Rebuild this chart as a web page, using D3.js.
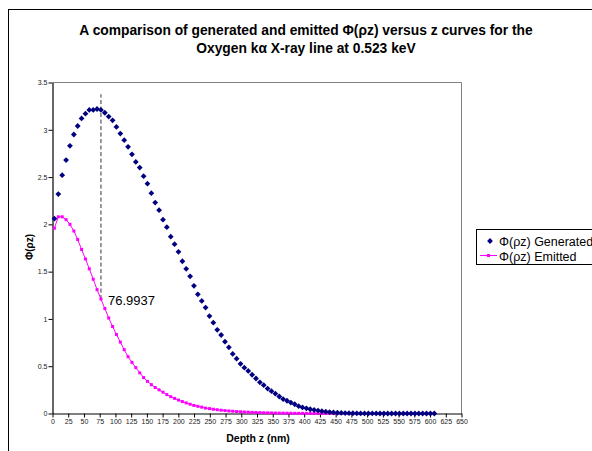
<!DOCTYPE html>
<html><head><meta charset="utf-8">
<script src="https://cdn.jsdelivr.net/npm/d3@7"></script>
<style>body{margin:0;background:#fff}svg{display:block;font-family:Arial,"Liberation Sans",sans-serif}</style>
</head><body><svg id="c" width="592" height="451"></svg>
<script>
const depth = [3.1,9.2,15.4,21.6,27.7,33.9,40.0,46.2,52.4,58.5,64.7,70.8,77.0,83.2,89.3,95.5,101.6,107.8,114.0,120.1,
126.3,132.4,138.6,144.8,150.9,157.1,163.2,169.4,175.6,181.7,187.9,194.0,200.2,206.4,212.5,218.7,224.8,231.0,237.2,243.3,
249.5,255.6,261.8,268.0,274.1,280.3,286.4,292.6,298.8,304.9,311.1,317.2,323.4,329.6,335.7,341.9,348.0,354.2,360.4,366.5,
372.7,378.8,385.0,391.2,397.3,403.5,409.6,415.8,422.0,428.1,434.3,440.4,446.6,452.8,458.9,465.1,471.2,477.4,483.6,489.7,
495.9,502.0,508.2,514.4,520.5,526.7,532.8,539.0,545.2,551.3,557.5,563.6,569.8,576.0,582.1,588.3,594.4,600.6,606.8];
const generated = [2.06,2.32,2.52,2.68,2.83,2.95,3.04,3.12,3.17,3.21,3.21,3.22,3.21,3.18,3.14,3.10,3.03,2.96,2.89,2.82,
2.74,2.66,2.60,2.51,2.43,2.33,2.23,2.15,2.05,1.97,1.87,1.79,1.71,1.61,1.53,1.45,1.35,1.26,1.19,1.12,
1.03,0.96,0.885,0.83,0.76,0.70,0.63,0.58,0.525,0.485,0.45,0.41,0.37,0.33,0.30,0.264,0.236,0.21,0.18,0.153,
0.135,0.116,0.098,0.077,0.064,0.055,0.045,0.038,0.031,0.025,0.019,0.015,0.011,0.008,0.006,0.0045,0.0033,0.0024,0.0017,0.0012,
0.0008,0.0006,0.0004,0.0003,0.0002,0.0001,0.0001,0.0001,0.0001,0.0001,0.0001,0.0001,0.0001,0.0001,0.0001,0.0001,0.0001,0.0001,0.0001];
const emitted = [1.96,2.08,2.08,2.05,2.00,1.93,1.84,1.735,1.634,1.53,1.42,1.31,1.21,1.11,1.01,0.92,0.835,0.755,0.675,0.60,
0.54,0.485,0.43,0.38,0.34,0.305,0.275,0.25,0.225,0.20,0.178,0.16,0.142,0.126,0.112,0.098,0.085,0.076,0.067,0.057,
0.052,0.045,0.04,0.035,0.031,0.027,0.024,0.021,0.018,0.016,0.014,0.012,0.011,0.0095,0.008,0.007,0.006,0.0052,0.0045,0.0039,
0.0033,0.0028,0.0024,0.002,0.0017,0.0014,0.0012,0.001,0.0008,0.0007,0.0006,0.0005,0.0004,0.0003,0.0003,0.0002,0.0002,0.0001,0.0001,0.0001,
0.0001,0.0001,0.0001,0.0001,0.0001,0.0001,0.0001,0.0001,0.0001,0.0001,0.0001,0.0001,0.0001,0.0001,0.0001,0.0001,0.0001,0.0001,0.0001];
const xTicks = d3.range(0, 651, 25);
const yTicks = [0,0.5,1,1.5,2,2.5,3,3.5];
const peakDepth = 76.9937;
const peakEmitted = 1.21;
const peakTop = 3.375;
const titleLines = ["A comparison of generated and emitted \u03A6(\u03C1z) versus z curves for the","Oxygen k\u03B1 X-ray line at 0.523 keV"];
const seriesNames = ["\u03A6(\u03C1z) Generated","\u03A6(\u03C1z) Emitted"];

const svg = d3.select("#c");
const L=52.5, R=461.5, T=82.5, B=413.5;
const x = d3.scaleLinear().domain([0,650]).range([L,R]);
const y = d3.scaleLinear().domain([0,3.5]).range([B,T]);

// outer chart border
svg.append("rect").attr("x",8.5).attr("y",9.5).attr("width",700).attr("height",600)
  .attr("fill","#fff").attr("stroke","#000").attr("stroke-width",1);

// title
svg.append("g").selectAll("text").data(titleLines).join("text")
  .attr("x",306).attr("y",(d,i)=>35+i*18).attr("text-anchor","middle")
  .attr("font-size",13.8).attr("font-weight","bold").text(d=>d);

// plot border (top/right grey)
svg.append("path").attr("d",`M${L},${T}H${R}V${B}`).attr("fill","none").attr("stroke","#808080");

// axes
const xa = svg.append("g").attr("transform",`translate(0,${B})`)
  .call(d3.axisBottom(x).tickValues(xTicks).tickSize(4).tickSizeOuter(0).tickFormat(d3.format("d")));
const ya = svg.append("g").attr("transform",`translate(${L},0)`)
  .call(d3.axisLeft(y).tickValues(yTicks).tickSize(4).tickSizeOuter(0).tickFormat(d=>String(d)));
[xa,ya].forEach(a=>{
  a.select(".domain").attr("stroke","#000").attr("stroke-width",1.2);
  a.selectAll(".tick line").attr("stroke","#000");
  a.selectAll("text").attr("font-size",7).attr("fill","#222").attr("font-family","Arial,'Liberation Sans',sans-serif");
});
xa.selectAll("text").attr("dy","0.75em").attr("y",5);
ya.selectAll("text").attr("x",-5);

// axis titles
svg.append("text").attr("x",258).attr("y",442).attr("text-anchor","middle")
  .attr("font-size",10.5).attr("font-weight","bold").text("Depth z (nm)");
svg.append("text").attr("transform","translate(33,247) rotate(-90)").attr("text-anchor","middle")
  .attr("font-size",10).attr("font-weight","bold").text("\u03A6(\u03C1z)");

// dashed line
svg.append("line").attr("x1",x(peakDepth)).attr("x2",x(peakDepth))
  .attr("y1",y(peakEmitted)).attr("y2",y(peakTop))
  .attr("stroke","#333").attr("stroke-width",1).attr("stroke-dasharray","4,2.5");

// emitted line
const em = depth.map((d,i)=>[d,emitted[i]]);
svg.append("path").datum(em).attr("fill","none").attr("stroke","#FF00FF").attr("stroke-width",1)
  .attr("d",d3.line().x(d=>x(d[0])).y(d=>y(d[1])));
svg.append("g").selectAll("rect").data(em).join("rect")
  .attr("x",d=>x(d[0])-1.5).attr("y",d=>y(d[1])-1.5).attr("width",3).attr("height",3).attr("fill","#FF00FF");

// generated diamonds
const diamond = "M0,-2.9L2.9,0L0,2.9L-2.9,0Z";
const ge = depth.map((d,i)=>[d,generated[i]]);
svg.append("g").selectAll("path").data(ge).join("path")
  .attr("d",diamond).attr("transform",d=>`translate(${x(d[0])},${y(d[1])})`).attr("fill","#000080");

// label
svg.append("text").attr("x",108).attr("y",305).attr("font-size",13).attr("fill","#000").text(peakDepth.toString());

// legend
const lg = svg.append("g");
lg.append("rect").attr("x",476.5).attr("y",229.5).attr("width",140).attr("height",35)
  .attr("fill","#fff").attr("stroke","#000");
lg.append("path").attr("d",diamond).attr("transform","translate(490,241)").attr("fill","#000080");
lg.append("line").attr("x1",480).attr("x2",497).attr("y1",255.5).attr("y2",255.5).attr("stroke","#FF00FF");
lg.append("rect").attr("x",487).attr("y",254).attr("width",3).attr("height",3).attr("fill","#FF00FF");
lg.selectAll("text").data(seriesNames).join("text")
  .attr("x",499).attr("y",(d,i)=>246+i*14.5).attr("font-size",12.5).text(d=>d);
</script></body></html>
